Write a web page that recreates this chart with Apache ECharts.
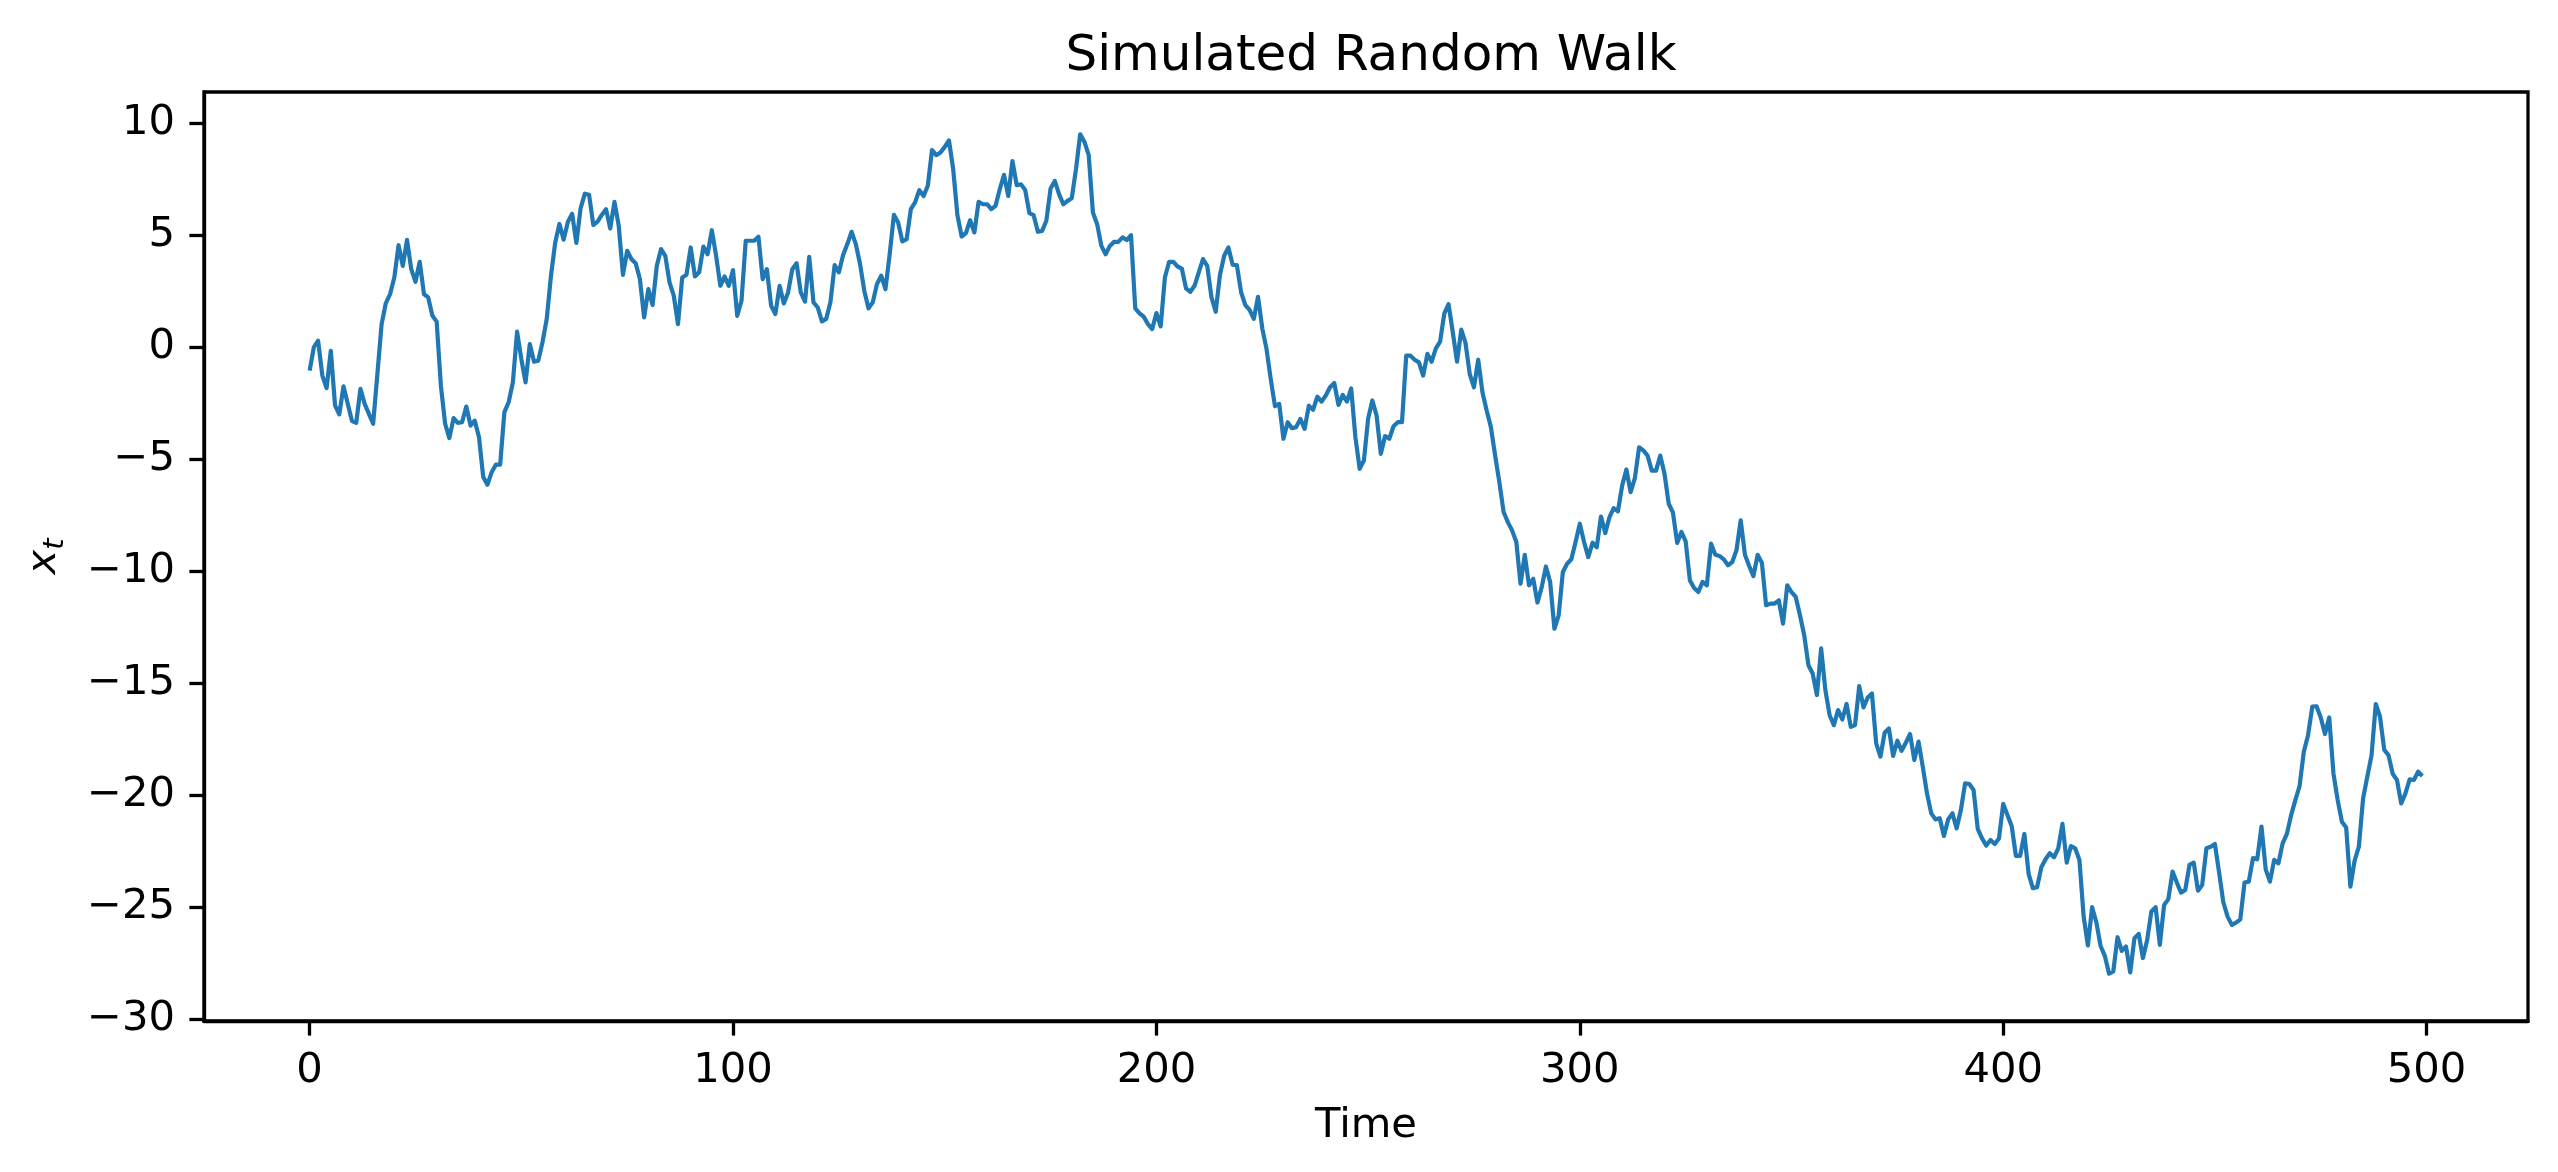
<!DOCTYPE html>
<html>
<head>
<meta charset="utf-8">
<title>Simulated Random Walk</title>
<script src="https://cdn.jsdelivr.net/npm/echarts@6/dist/echarts.min.js"></script>
<style>
    html, body { margin: 0; padding: 0; background: #ffffff; }
    #walkChart { width: 2558px; height: 1172px; }
</style>
</head>
<body>
<div id="walkChart"></div>
<script>
// x_t, one value per time step (t = 0 .. 499)
var walkValues = [
    -1.05, 0.0, 0.29, -1.27, -1.83, -0.16, -2.6, -3.0, -1.75, -2.53,
    -3.3, -3.38, -1.86, -2.53, -2.98, -3.42, -1.2, 1.03, 1.97, 2.37,
    3.11, 4.55, 3.63, 4.79, 3.48, 2.92, 3.81, 2.37, 2.22, 1.40,
    1.14, -1.72, -3.42, -4.06, -3.17, -3.38, -3.35, -2.65, -3.5, -3.28,
    -4.02, -5.8, -6.14, -5.58, -5.24, -5.24, -2.9, -2.46, -1.57, 0.69,
    -0.53, -1.57, 0.14, -0.65, -0.6, 0.22, 1.26, 3.19, 4.67, 5.5,
    4.8, 5.6, 5.95, 4.65, 6.2, 6.85, 6.8, 5.45, 5.6, 5.9,
    6.16, 5.30, 6.49, 5.42, 3.23, 4.30, 3.93, 3.75, 3.04, 1.33,
    2.59, 1.88, 3.63, 4.38, 4.08, 2.89, 2.30, 1.03, 3.11, 3.23,
    4.45, 3.16, 3.34, 4.49, 4.15, 5.22, 4.08, 2.74, 3.16, 2.74,
    3.44, 1.40, 2.07, 4.75, 4.75, 4.75, 4.93, 3.04, 3.48, 1.85,
    1.48, 2.74, 1.95, 2.44, 3.48, 3.75, 2.44, 2.03, 4.03, 2.00,
    1.78, 1.15, 1.26, 2.00, 3.66, 3.34, 4.11, 4.60, 5.15, 4.60,
    3.71, 2.52, 1.73, 2.00, 2.82, 3.19, 2.59, 4.15, 5.91, 5.56,
    4.72, 4.82, 6.16, 6.46, 7.01, 6.75, 7.2, 8.80, 8.57, 8.69,
    8.94, 9.23, 7.94, 5.89, 4.94, 5.09, 5.67, 5.12, 6.49, 6.38,
    6.38, 6.16, 6.31, 7.05, 7.69, 6.75, 8.31, 7.23, 7.27, 7.02,
    5.98, 5.89, 5.15, 5.19, 5.64, 7.08, 7.42, 6.83, 6.38, 6.53,
    6.65, 7.94, 9.50, 9.16, 8.58, 6.01, 5.49, 4.52, 4.15, 4.52,
    4.70, 4.70, 4.90, 4.78, 5.00, 1.73, 1.51, 1.36, 1.03, 0.81,
    1.52, 0.93, 3.11, 3.81, 3.81, 3.60, 3.51, 2.62, 2.47, 2.74,
    3.34, 3.93, 3.63, 2.22, 1.58, 3.22, 4.08, 4.45, 3.68, 3.66,
    2.45, 1.88, 1.66, 1.26, 2.25, 0.84, -0.08, -1.42, -2.64, -2.53,
    -4.09, -3.35, -3.62, -3.57, -3.20, -3.65, -2.61, -2.80, -2.21, -2.43,
    -2.16, -1.79, -1.60, -2.58, -2.13, -2.43, -1.84, -4.02, -5.43, -5.06,
    -3.20, -2.38, -3.05, -4.76, -3.97, -4.09, -3.53, -3.35, -3.35, -0.38,
    -0.38, -0.56, -0.68, -1.27, -0.30, -0.65, -0.05, 0.25, 1.51, 1.92,
    0.66, -0.65, 0.78, 0.19, -1.20, -1.79, -0.56, -2.01, -2.83, -3.57,
    -4.84, -6.03, -7.36, -7.81, -8.18, -8.7, -10.56, -9.27, -10.63, -10.34,
    -11.40, -10.71, -9.79, -10.49, -12.57, -11.97, -10.04, -9.67, -9.47, -8.70,
    -7.88, -8.70, -9.37, -8.73, -8.93, -7.56, -8.30, -7.59, -7.19, -7.33,
    -6.18, -5.46, -6.47, -5.85, -4.47, -4.61, -4.84, -5.51, -5.51, -4.84,
    -5.65, -6.99, -7.39, -8.74, -8.25, -8.67, -10.41, -10.75, -10.93, -10.48,
    -10.63, -8.77, -9.27, -9.32, -9.47, -9.74, -9.59, -9.07, -7.73, -9.27,
    -9.77, -10.22, -9.27, -9.62, -11.52, -11.45, -11.45, -11.30, -12.34, -10.63,
    -10.93, -11.15, -11.97, -12.86, -14.20, -14.57, -15.53, -13.45, -15.31, -16.43,
    -16.87, -16.20, -16.62, -15.93, -16.95, -16.87, -15.13, -16.08, -15.64, -15.46,
    -17.69, -18.28, -17.21, -17.02, -18.25, -17.57, -18.02, -17.66, -17.27, -18.43,
    -17.61, -18.73, -19.92, -20.81, -21.08, -21.03, -21.82, -21.08, -20.81, -21.48,
    -20.66, -19.47, -19.50, -19.77, -21.52, -21.93, -22.25, -22.00, -22.18, -21.93,
    -20.39, -20.88, -21.37, -22.71, -22.71, -21.73, -23.51, -24.15, -24.11, -23.22,
    -22.86, -22.59, -22.77, -22.37, -21.28, -23.01, -22.27, -22.37, -22.89, -25.42,
    -26.71, -25.00, -25.68, -26.73, -27.17, -27.97, -27.87, -26.34, -26.95, -26.75,
    -27.91, -26.38, -26.19, -27.27, -26.46, -25.19, -25.00, -26.68, -24.90, -24.64,
    -23.41, -23.90, -24.35, -24.23, -23.11, -23.01, -24.26, -24.01, -22.37, -22.30,
    -22.18, -23.46, -24.79, -25.42, -25.79, -25.69, -25.54, -23.90, -23.86, -22.81,
    -22.86, -21.40, -23.31, -23.86, -22.89, -23.04, -22.15, -21.73, -20.89, -20.22,
    -19.59, -18.06, -17.32, -16.05, -16.03, -16.53, -17.27, -16.53, -19.03, -20.22,
    -21.19, -21.44, -24.08, -22.92, -22.30, -20.14, -19.17, -18.21, -15.93, -16.50,
    -17.98, -18.21, -19.05, -19.32, -20.37, -19.92, -19.29, -19.32, -18.95, -19.14
];

var xTicks = [0, 100, 200, 300, 400, 500];
var yTicks = [-30, -25, -20, -15, -10, -5, 0, 5, 10];

initWalkChart();

/**
 * 画随机游走折线图
 */
function initWalkChart() {
    var dom = document.getElementById("walkChart");
    var myChart = echarts.init(dom, null, { renderer: 'canvas' });

    // [t, x_t] pairs for the value axis
    var points = walkValues.map(function (v, i) { return [i, v]; });

    var font = 'DejaVu Sans';
    var tickFont = 41.7;

    function minusSign(v) {
        return String(v).replace('-', '\u2212');
    }

    var option = {
        backgroundColor: '#ffffff',
        animation: false,
        title: {
            text: 'Simulated Random Walk',
            left: 1366,
            textAlign: 'center',
            top: 27,
            textStyle: {
                fontFamily: font,
                fontSize: 50,
                fontWeight: 'normal',
                color: '#000000'
            }
        },
        grid: {
            left: 204,
            right: 30,
            top: 92,
            bottom: 151,
            containLabel: false,
            show: true,
            borderColor: '#000000',
            borderWidth: 3.3,
            backgroundColor: 'transparent'
        },
        xAxis: {
            type: 'value',
            min: -24.95,
            max: 523.95,
            name: 'Time',
            nameLocation: 'middle',
            nameGap: 84,
            nameTextStyle: { fontFamily: font, fontSize: tickFont, color: '#000000' },
            splitLine: { show: false },
            axisLine: { show: true, onZero: false, lineStyle: { color: '#000000', width: 3.3 } },
            axisTick: {
                show: true,
                length: 14.6,
                customValues: xTicks,
                lineStyle: { color: '#000000', width: 3.3 }
            },
            axisLabel: {
                customValues: xTicks,
                margin: 29,
                fontFamily: font,
                fontSize: tickFont,
                color: '#000000',
                formatter: minusSign
            }
        },
        yAxis: {
            type: 'value',
            min: -30.08,
            max: 11.39,
            name: '{x|x}{t|t}',
            nameLocation: 'middle',
            nameRotate: 90,
            nameGap: 134,
            nameTextStyle: {
                color: '#000000',
                rich: {
                    x: { fontFamily: font, fontStyle: 'italic', fontSize: tickFont, color: '#000000', lineHeight: 52 },
                    t: { fontFamily: font, fontStyle: 'italic', fontSize: 29, color: '#000000', verticalAlign: 'bottom', lineHeight: 52 }
                }
            },
            splitLine: { show: false },
            axisLine: { show: true, onZero: false, lineStyle: { color: '#000000', width: 3.3 } },
            axisTick: {
                show: true,
                length: 14.6,
                customValues: yTicks,
                lineStyle: { color: '#000000', width: 3.3 }
            },
            axisLabel: {
                customValues: yTicks,
                margin: 29,
                fontFamily: font,
                fontSize: tickFont,
                color: '#000000',
                formatter: minusSign
            }
        },
        series: [
            {
                name: 'x_t',
                type: 'line',
                data: points,
                showSymbol: false,
                symbol: 'none',
                smooth: false,
                lineStyle: {
                    color: '#1f77b4',
                    width: 4.2,
                    join: 'round',
                    cap: 'butt'
                }
            }
        ]
    };

    if (option && typeof option === "object") {
        myChart.setOption(option, true);
    }
}
</script>
</body>
</html>
